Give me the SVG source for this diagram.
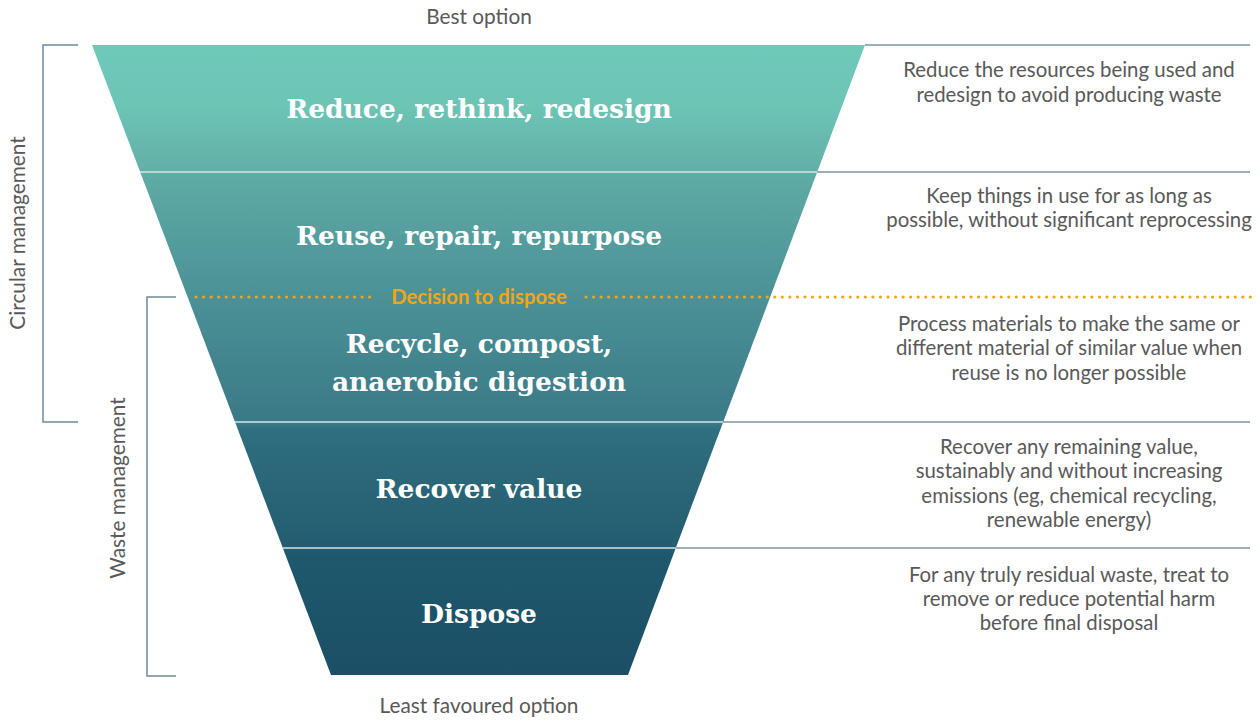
<svg xmlns="http://www.w3.org/2000/svg" width="1260" height="722" viewBox="0 0 1260 722">
<defs>
<linearGradient id="fg" gradientUnits="userSpaceOnUse" x1="0" y1="45" x2="0" y2="675">
<stop offset="0" stop-color="#6fc9b9"/>
<stop offset="0.1" stop-color="#6cc4b5"/>
<stop offset="0.2" stop-color="#62afa7"/>
<stop offset="0.21" stop-color="#5eaaa4"/>
<stop offset="0.4" stop-color="#4b9197"/>
<stop offset="0.6" stop-color="#3a7986"/>
<stop offset="0.61" stop-color="#2f6f7f"/>
<stop offset="0.8" stop-color="#235c70"/>
<stop offset="0.81" stop-color="#1f586d"/>
<stop offset="1" stop-color="#1b4f66"/>
</linearGradient>
<style>
.band{font-family:"DejaVu Serif","Liberation Serif",serif;font-weight:bold;font-size:26.5px;fill:#ffffff;text-anchor:middle}
.desc{font-family:Lato,"Liberation Sans",sans-serif;font-size:20.4px;fill:#595959;text-anchor:middle}
.side{font-family:Lato,"Liberation Sans",sans-serif;font-size:20.8px;fill:#595959;text-anchor:middle}
.rule{stroke:#7b95a4;stroke-width:1.5;fill:none}
.div{stroke:#d4e6e6;stroke-width:1.5}
.brk{stroke:#6d8c9c;stroke-width:1.5;fill:none}
.dots{stroke:#f2a516;stroke-width:3.2;stroke-linecap:round;stroke-dasharray:0 7.55}
</style>
</defs>
<rect width="1260" height="722" fill="#ffffff"/>
<g id="connectors">
<line class="rule" x1="865" y1="45" x2="1250" y2="45"/>
<line class="rule" x1="817" y1="172" x2="1250" y2="172"/>
<line class="rule" x1="723" y1="422" x2="1250" y2="422"/>
<line class="rule" x1="676" y1="548" x2="1250" y2="548"/>
<polyline class="brk" points="78,45 43,45 43,422 78,422"/>
<polyline class="brk" points="176,297 147,297 147,676 176,676"/>
</g>
<g id="funnel">
<polygon points="92,45 865,45 628,675 331,675" fill="url(#fg)"/>
<line class="div" x1="140" y1="172" x2="817" y2="172"/>
<line class="div" x1="235" y1="422" x2="723" y2="422"/>
<line class="div" x1="283" y1="548" x2="676" y2="548"/>
</g>
<g id="decision">
<line class="dots" x1="196" y1="297" x2="376" y2="297"/>
<line class="dots" x1="586" y1="297" x2="1253" y2="297"/>
<text x="479" y="303.5" font-family="Lato,'Liberation Sans',sans-serif" font-weight="bold" font-size="20.3" fill="#f2a516" text-anchor="middle">Decision to dispose</text>
</g>
<g id="node-reduce">
<text class="band" x="479" y="118">Reduce, rethink, redesign</text>
<text class="desc" x="1069" y="77">Reduce the resources being used and</text>
<text class="desc" x="1069" y="102">redesign to avoid producing waste</text>
</g>
<g id="node-reuse">
<text class="band" x="479" y="245">Reuse, repair, repurpose</text>
<text class="desc" x="1069" y="203">Keep things in use for as long as</text>
<text class="desc" x="1069" y="227">possible, without significant reprocessing</text>
</g>
<g id="node-recycle">
<text class="band" x="479" y="353">Recycle, compost,</text>
<text class="band" x="479" y="391">anaerobic digestion</text>
<text class="desc" x="1069" y="331">Process materials to make the same or</text>
<text class="desc" x="1069" y="355">different material of similar value when</text>
<text class="desc" x="1069" y="380">reuse is no longer possible</text>
</g>
<g id="node-recover">
<text class="band" x="479" y="498">Recover value</text>
<text class="desc" x="1069" y="454">Recover any remaining value,</text>
<text class="desc" x="1069" y="478">sustainably and without increasing</text>
<text class="desc" x="1069" y="503">emissions (eg, chemical recycling,</text>
<text class="desc" x="1069" y="527">renewable energy)</text>
</g>
<g id="node-dispose">
<text class="band" x="479" y="623">Dispose</text>
<text class="desc" x="1069" y="582">For any truly residual waste, treat to</text>
<text class="desc" x="1069" y="606">remove or reduce potential harm</text>
<text class="desc" x="1069" y="630">before final disposal</text>
</g>
<g id="labels">
<text class="side" x="479" y="24">Best option</text>
<text class="side" x="479" y="713">Least favoured option</text>
<text class="side" transform="translate(25,233) rotate(-90)">Circular management</text>
<text class="side" transform="translate(125,488) rotate(-90)">Waste management</text>
</g>
</svg>
